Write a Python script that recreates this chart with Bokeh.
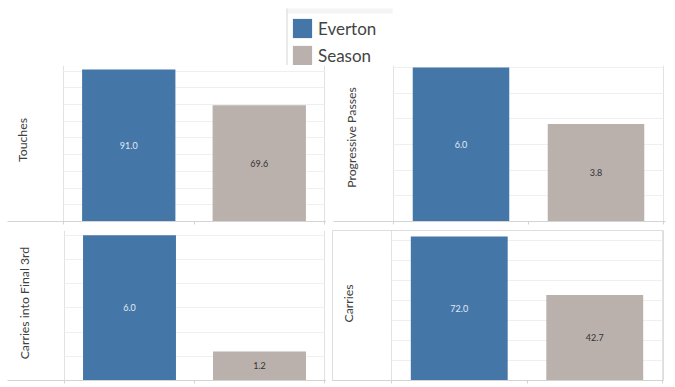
import math
from bokeh.plotting import figure
from bokeh.models import (Range1d, FixedTicker, SingleIntervalTicker, ColumnDataSource,
                          Label, Legend, LegendItem, BoxAnnotation)
from bokeh.layouts import column, row
from bokeh.embed import file_html
from bokeh.resources import INLINE
from bokeh.core.properties import value

# ---- data ----
metrics = ["Touches", "Progressive Passes", "Carries into Final 3rd", "Carries"]
series = ["Everton", "Season"]
everton = [91.0, 6.0, 6.0, 72.0]
season = [69.6, 3.8, 1.2, 42.7]
grid_step = [10, 1, 1, 10]
y_max = [93.4, 6.08, 6.2, 75.0]

COLORS = ["#4477a8", "#bab0ac"]
TEXT_COLORS = ["#e2eaf3", "#333333"]
FONT = "Lato"
GRID_C = "#efefef"
PANE_C = "#e2e2e2"
BASE_C = "#d4d4d4"

# panel geometry: fig width, height, borders (l, r, t, b), pane offsets a, b in frame px,
# label centre x offset in frame px, label centre y offset from frame top (px), outline
geo = [
    dict(w=326, h=160, bl=7, br=0, bt=0, bb=3, a=56, b=317, lx=15, ly=75, outline=False),
    dict(w=349, h=160, bl=7, br=10, bt=0, bb=4, a=60, b=330, lx=18, ly=72, outline=False),
    dict(w=326, h=162, bl=7, br=0, bt=1, bb=6, a=57, b=317, lx=17, ly=75, outline=False),
    dict(w=349, h=162, bl=6, br=12, bt=5, bb=7, a=59, b=330, lx=16, ly=73, outline=True),
]


def panel(i):
    g = geo[i]
    W = g["w"] - g["bl"] - g["br"]
    H = g["h"] - g["bt"] - g["bb"]
    unit = (g["b"] - g["a"]) / 2.0
    xs = -g["a"] / unit
    xe = 2 + (W - g["b"]) / unit
    p = figure(width=g["w"], height=g["h"], output_backend="svg", toolbar_location=None,
               x_range=Range1d(xs, xe), y_range=Range1d(0, y_max[i]),
               min_border_left=g["bl"], min_border_right=g["br"],
               min_border_top=g["bt"], min_border_bottom=g["bb"],
               y_axis_location=None)
    p.outline_line_color = "#dedede" if g["outline"] else None
    p.background_fill_color = "white"

    # horizontal gridlines
    p.ygrid.ticker = SingleIntervalTicker(interval=grid_step[i])
    p.ygrid.grid_line_color = GRID_C
    p.ygrid.cross_bounds = (0, 2)
    # pane borders
    p.xgrid.ticker = FixedTicker(ticks=[0, 2])
    p.xgrid.grid_line_color = PANE_C

    # baseline axis with header ticks
    ax = p.xaxis[0]
    ax.ticker = FixedTicker(ticks=[0, 1, 2])
    ax.major_tick_out = 3
    ax.major_tick_in = 0
    ax.minor_tick_line_color = None
    ax.major_tick_line_color = BASE_C
    ax.axis_line_color = BASE_C
    ax.major_label_overrides = {0: "", 1: "", 2: ""}
    ax.major_label_text_font_size = "1px"
    ax.major_label_standoff = 0

    vals = [everton[i], season[i]]
    src = ColumnDataSource(dict(
        x=[k + 0.5 for k in range(len(series))],
        top=vals,
        mid=[v / 2.0 for v in vals],
        label=[f"{v:.1f}" for v in vals],
        color=COLORS,
        tcolor=TEXT_COLORS,
    ))
    p.vbar(x="x", top="top", width=0.715, fill_color="color", line_color=None, source=src)
    p.text(x="x", y="mid", text="label", text_color="tcolor", text_align="center",
           text_baseline="middle", text_font=value(FONT), text_font_size="9px", source=src)

    lab = Label(x=xs + g["lx"] / unit, y=y_max[i] * (1 - g["ly"] / H), text=metrics[i],
                angle=math.pi / 2, text_align="center", text_baseline="middle",
                text_font=FONT, text_font_size="12.3px", text_color="#404040")
    p.add_layout(lab)
    return p


panels = [panel(i) for i in range(4)]

# ---- legend strip ----
leg = figure(width=675, height=65, output_backend="svg", toolbar_location=None,
             x_range=Range1d(0, 675), y_range=Range1d(0, 65),
             x_axis_location=None, y_axis_location=None,
             min_border_left=0, min_border_right=0, min_border_top=0, min_border_bottom=0)
leg.grid.visible = False
leg.outline_line_color = None
leg_src = ColumnDataSource(dict(x=[0, 0], top=[0, 0], name=series, color=COLORS))
r = leg.vbar(x="x", top="top", width=1, fill_color="color", line_color=None,
             source=leg_src, visible=False)
items = [LegendItem(label=s, renderers=[r], index=k) for k, s in enumerate(series)]
leg.add_layout(BoxAnnotation(left=287, right=392, bottom=52, top=57,
                             fill_color="#f4f4f4", fill_alpha=1, line_color=None))
leg.add_layout(BoxAnnotation(left=286, right=287, bottom=0, top=57,
                             fill_color="#d6d6d6", fill_alpha=1, line_color=None))
legend = Legend(items=items, location=(290, -2), padding=0, margin=0, spacing=3,
                glyph_width=24, glyph_height=24, label_height=24, label_standoff=4,
                border_line_color=None, background_fill_alpha=0,
                label_text_font=FONT, label_text_font_size="17px",
                label_text_color="#444444", label_text_baseline="middle")
leg.add_layout(legend)

layout = column(leg, row(panels[0], panels[1]), row(panels[2], panels[3]))

open("out.html", "w").write(file_html(layout, INLINE))
